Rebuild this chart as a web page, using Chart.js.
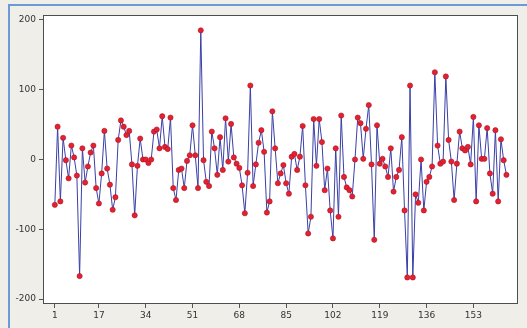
<!DOCTYPE html>
<html><head><meta charset="utf-8">
<script src="https://cdn.jsdelivr.net/npm/chart.js@4/dist/chart.umd.min.js"></script>
<style>
html,body{margin:0;padding:0;background:#efeee9;}
#wrap{position:relative;width:527px;height:328px;overflow:hidden;background:#efeee9;}
#frame{position:absolute;left:8px;top:4px;right:-5px;bottom:-5px;border-left:2px solid #6d9ad6;border-top:2px solid #6d9ad6;}
canvas{position:absolute;left:0;top:0;}
</style></head>
<body><div id="wrap"><div id="frame"></div><canvas id="c" width="527" height="328"></canvas></div>
<script>
const values = [
 -65, 47, -60, 31, -1, -27, 20, 3, -23, -167,
 16, -33, -10, 10, 20, -41, -63, -20, 41, -13,
 -36, -72, -54, 28, 56, 47, 35, 41, -7, -80,
 -9, 30, 0, 0, -5, 0, 40, 43, 16, 62,
 18, 15, 60, -41, -58, -15, -13, -41, -2, 6,
 49, 6, -41, 185, -1, -32, -38, 40, 16, -22,
 32, -15, 59, -3, 51, 3, -6, -12, -37, -77,
 -19, 106, -38, -7, 24, 42, 11, -76, -60, 69,
 16, -34, -20, -8, -34, -49, 4, 8, -15, 4,
 48, -37, -106, -82, 58, -9, 58, 25, -44, -13,
 -73, -113, 16, -82, 63, -25, -40, -44, -53, 0,
 60, 52, 1, 44, 78, -7, -115, 49, -6, 1,
 -10, -25, 16, -46, -25, -15, 32, -73, -169, 106,
 -169, -50, -62, 0, -73, -32, -25, -10, 125, 20,
 -6, -3, 119, 28, -3, -58, -6, 40, 16, 13,
 18, -7, 61, -60, 49, 1, 1, 45, -20, -49,
 42, -60, 29, -1, -22
];
const indices = values.map((v, i) => i + 1);
const xTicks = [1, 17, 34, 51, 68, 85, 102, 119, 136, 153];
const yTicks = [-200, -100, 0, 100, 200];

const plotBox = {
  id: 'plotBox',
  beforeDraw(chart) {
    const {ctx, chartArea: a} = chart;
    ctx.save();
    ctx.fillStyle = '#ffffff';
    ctx.fillRect(a.left, a.top, a.width, a.height);
    ctx.restore();
  },
  afterDraw(chart) {
    const {ctx, chartArea: a} = chart;
    ctx.save();
    ctx.strokeStyle = '#4d4d4d';
    ctx.lineWidth = 1;
    ctx.strokeRect(Math.round(a.left) + 0.5, Math.round(a.top) + 0.5, Math.round(a.width) - 1, Math.round(a.height) - 1);
    ctx.restore();
  }
};

const tickFont = {family: 'DejaVu Sans', size: 9};

new Chart(document.getElementById('c'), {
  type: 'line',
  data: {
    datasets: [{
      data: values.map((v, i) => ({x: indices[i], y: v})),
      borderColor: '#3a40a6',
      borderWidth: 1,
      tension: 0,
      pointRadius: 2.6,
      pointBackgroundColor: '#e2232f',
      pointBorderColor: '#b0102a',
      pointBorderWidth: 0.6
    }]
  },
  options: {
    responsive: false,
    devicePixelRatio: 1,
    animation: false,
    layout: {padding: {left: 0, right: 9, top: 15, bottom: 0}},
    plugins: {legend: {display: false}, tooltip: {enabled: false}},
    scales: {
      x: {
        type: 'linear',
        min: -3.3,
        max: 169.2,
        afterBuildTicks: s => { s.ticks = xTicks.map(v => ({value: v})); },
        afterFit: s => { s.height = 24; },
        ticks: {font: tickFont, color: '#333', padding: 2, maxRotation: 0, autoSkip: false},
        grid: {drawOnChartArea: false, tickLength: 4, color: '#555'},
        border: {display: false}
      },
      y: {
        min: -207,
        max: 207,
        afterBuildTicks: s => { s.ticks = yTicks.map(v => ({value: v})); },
        afterFit: s => { s.width = 43; },
        ticks: {font: tickFont, color: '#333', padding: 3},
        grid: {drawOnChartArea: false, tickLength: 4, color: '#555'},
        border: {display: false}
      }
    }
  },
  plugins: [plotBox]
});
</script>
</body></html>
